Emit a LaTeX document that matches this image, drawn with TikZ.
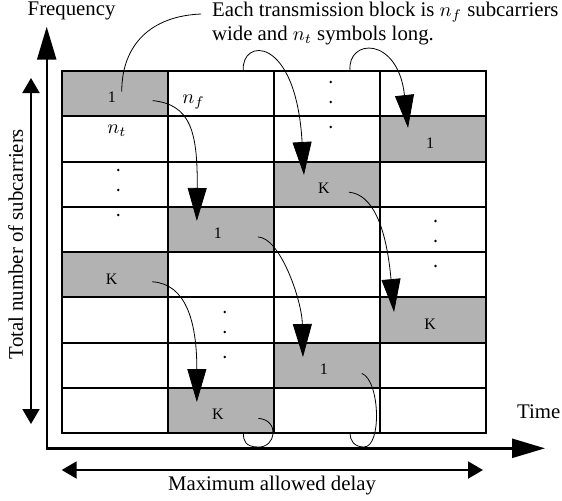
\documentclass[tikz,border=0pt]{standalone}
\usepackage{fontspec}
\setmainfont{Liberation Serif}
\usetikzlibrary{arrows.meta}
\tikzset{
  bigtip/.style={-{Triangle[length=16.5pt,width=9.5pt]}},
  smalltip/.style={{Triangle[length=7.5pt,width=8.5pt]}-{Triangle[length=7.5pt,width=8.5pt]}},
  usercell/.style={fill=black!30},
  userlbl/.style={inner sep=0pt,font=\fontsize{8}{9}\selectfont},
  txt/.style={inner sep=0pt,anchor=base west}
}

\begin{document}
\begin{tikzpicture}[x=0.5pt,y=-0.5pt,font=\fontsize{10.4}{12.4}\selectfont]
    \useasboundingbox (0,0) rectangle (562,500);
    \foreach \c/\r/\t in {0/0/1,3/1/1,2/2/K,1/3/1,0/4/K,3/5/K,2/6/1,1/7/K}{
      \fill[usercell]({61.7+106.1*\c},{71+45.29*\r}) rectangle ++(106.1,45.29);
      \node[userlbl](u\c\r)at({111.75+106.1*\c},{97.6+45.29*\r}){\t};
    }
    \foreach \c in {0,...,4}\draw[line width=1pt,line cap=rect]({61.7+106.1*\c},71)--({61.7+106.1*\c},433.3);
    \foreach \r in {0,...,8}\draw[line width=1pt,line cap=rect](61.7,{71+45.29*\r})--(486.1,{71+45.29*\r});
    \foreach \x/\y in {118.3/170,330.7/82,435.5/221,224.7/312}
      \foreach \d in {0,20,45}\fill(\x,\y+\d)circle(1.4);

    \coordinate(ytip)at(46.7,26.7);
    \coordinate(origin)at(46.7,448.3);
    \coordinate(xtip)at(545,448.3);
    \draw[line width=1.2pt,{Triangle[length=16.5pt,width=9.5pt]}-{Triangle[length=16.5pt,width=9.5pt]}](ytip)--(origin)--(xtip);
    \coordinate(ttop)at(31,78);
    \coordinate(tbot)at(31,424);
    \draw[line width=1pt,smalltip](ttop)--(tbot);
    \coordinate(dl)at(61.7,470);
    \coordinate(dr)at(483,470);
    \draw[line width=1pt,smalltip](dl)--(dr);

    \node[txt](freq)at(27.3,15.7){Frequency};
    \node[txt](note1)at(211.7,16){Each transmission block is $n_f$ subcarriers};
    \node[txt](note2)at(211.7,40.7){wide and $n_t$ symbols long.};
    \node[txt](time)at(516.7,418.3){Time};
    \node[inner sep=0pt,anchor=base](delay)at(272,490){Maximum allowed delay};
    \node[inner sep=0pt,anchor=base,rotate=90](total)at(23,244){Total number of subcarriers};
    \node[txt](nf)at(182,103.3){$n_f$};
    \node[txt](nt)at(107,133.3){$n_t$};

    \coordinate(notefoot)at(201,14);
    \draw(notefoot)..controls +(-50,2) and +(0,-47)..([shift={(10,-6)}]u00.center);
    \draw[bigtip]([shift={(41,3)}]u00.center)..controls +(37,4) and +(1,-91)..([shift={(-21,-12.5)}]u13.center);
    \draw[bigtip]([shift={(40,3.5)}]u13.center)..controls +(22,0) and +(-1,-57)..([shift={(-21,-12.3)}]u26.center);
    \draw[bigtip]([shift={(40.5,3)}]u04.center)..controls +(33,2) and +(0,-82)..([shift={(-21,-12.6)}]u17.center);
    \draw[bigtip]([shift={(25,4)}]u22.center)..controls +(23,2) and +(-8,-87)..([shift={(-36,-12)}]u35.center);

    \coordinate(kout)at(243.3,433.3);
    \coordinate(kin)at(243.3,71);
    \coordinate(oneout)at(350,433.3);
    \coordinate(onein)at(350,71);
    \draw([shift={(40.5,3.7)}]u17.center)..controls +(21.7,1.7) and +(18,1)..(258,447)..controls +(-13,0) and +(0,6.7)..(kout);
    \draw([shift={(37.75,4)}]u26.center)..controls +(18.3,6.7) and +(18,0)..(364,447)..controls +(-10,0) and +(0,7)..(oneout);
    \draw[bigtip](kin)..controls +(-3,-33) and +(-8,-141)..([shift={(-20,-13.2)}]u22.center);
    \draw[bigtip](onein)..controls +(-3,-33) and +(-10,-92)..([shift={(-22,-14.9)}]u31.center);
\end{tikzpicture}
\end{document}
